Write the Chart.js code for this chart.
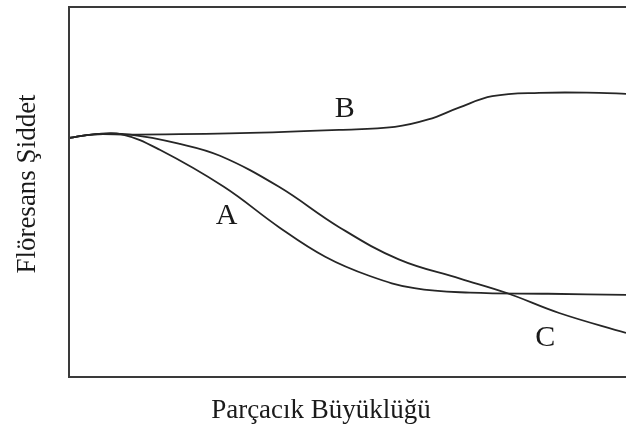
<!DOCTYPE html>
<html>
<head>
<meta charset="utf-8">
<script src="https://cdn.jsdelivr.net/npm/chart.js@4.4.1/dist/chart.umd.min.js"></script>
<style>
  html, body { margin: 0; padding: 0; background: #fff; }
  #wrap { width: 626px; height: 436px; }
</style>
</head>
<body>
<div id="wrap"><canvas id="chart" width="626" height="436"></canvas></div>
<script>
// values (x: particle size, y: fluorescence, arbitrary 0-100 units)
const curveA = [
  [0, 64.6], [4.5, 65.6], [9.5, 65.6], [16.3, 61.4], [27.8, 51.4],
  [37.7, 40.5], [46.0, 32.5], [54.0, 27.3], [62.0, 24.0], [72.0, 22.8],
  [86.0, 22.5], [100, 22.2]
];
const curveB = [
  [0, 64.6], [4.5, 65.6], [11.0, 65.5], [30.7, 65.9], [48.5, 66.8],
  [58.5, 67.6], [64.5, 69.6], [70.0, 72.8], [76.0, 75.9], [84.4, 76.8],
  [95.2, 76.8], [100, 76.5]
];
const curveC = [
  [0, 64.6], [4.5, 65.6], [11.0, 65.5], [19.9, 63.0], [27.1, 59.8],
  [37.7, 51.4], [48.5, 40.5], [59.2, 31.8], [70.2, 26.6], [78.6, 22.7],
  [88.0, 17.3], [100, 11.9]
];
// curve labels placed in data units
const curveLabels = [
  { text: "A", x: 28.3, y: 43.5 },
  { text: "B", x: 49.5, y: 72.5 },
  { text: "C", x: 85.5, y: 10.5 }
];
const xTitle = "Parçacık Büyüklüğü";
const yTitle = "Flöresans Şiddet";

const toPoints = arr => arr.map(p => ({ x: p[0], y: p[1] }));

const lineStyle = {
  borderColor: "#262626",
  borderWidth: 1.8,
  pointRadius: 0,
  fill: false,
  tension: 0.4
};

const framePlugin = {
  id: "frame",
  afterDraw(chart) {
    const { ctx, chartArea: a, scales } = chart;
    ctx.save();
    ctx.strokeStyle = "#3a3a3a";
    ctx.lineWidth = 2;
    ctx.beginPath();
    ctx.moveTo(chart.width, a.top);
    ctx.lineTo(a.left, a.top);
    ctx.lineTo(a.left, a.bottom);
    ctx.lineTo(chart.width, a.bottom);
    ctx.stroke();

    ctx.fillStyle = "#1a1a1a";
    ctx.textAlign = "center";
    ctx.textBaseline = "middle";
    ctx.font = "30px 'Liberation Serif', 'DejaVu Serif', serif";
    curveLabels.forEach(l => {
      ctx.fillText(l.text, scales.x.getPixelForValue(l.x), scales.y.getPixelForValue(l.y));
    });

    ctx.font = "27px 'Liberation Serif', 'DejaVu Serif', serif";
    ctx.fillText(xTitle, 321, 411);
    ctx.translate(28, 184);
    ctx.rotate(-Math.PI / 2);
    ctx.fillText(yTitle, 0, 0);
    ctx.restore();
  }
};

new Chart(document.getElementById("chart"), {
  type: "line",
  data: {
    datasets: [
      Object.assign({ label: "A", data: toPoints(curveA) }, lineStyle),
      Object.assign({ label: "B", data: toPoints(curveB) }, lineStyle),
      Object.assign({ label: "C", data: toPoints(curveC) }, lineStyle)
    ]
  },
  options: {
    responsive: false,
    animation: false,
    layout: { padding: { left: 69, top: 7, right: 0, bottom: 59 } },
    plugins: { legend: { display: false }, tooltip: { enabled: false } },
    scales: {
      x: { type: "linear", min: 0, max: 100, display: false },
      y: { type: "linear", min: 0, max: 100, display: false }
    }
  },
  plugins: [framePlugin]
});
</script>
</body>
</html>
